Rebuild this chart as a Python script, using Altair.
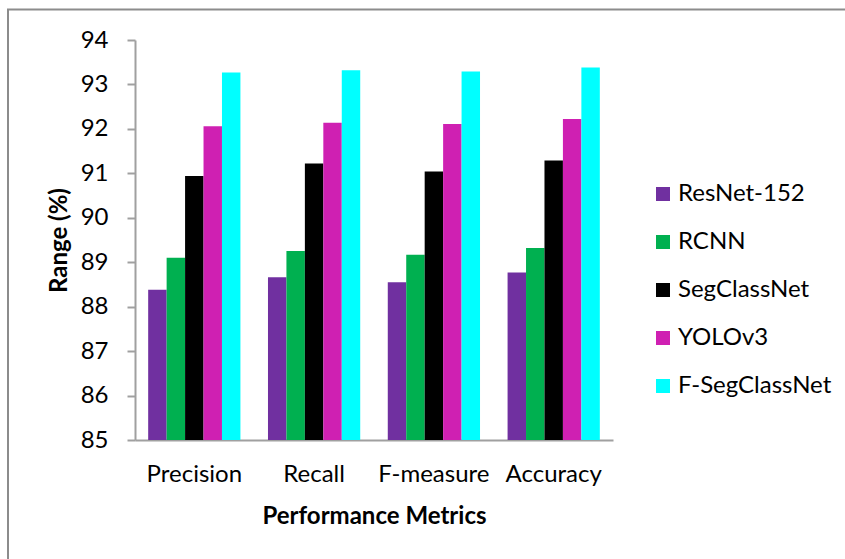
import altair as alt
import pandas as pd

metrics = ["Precision", "Recall", "F-measure", "Accuracy"]
models = ["ResNet-152", "RCNN", "SegClassNet", "YOLOv3", "F-SegClassNet"]
colors = ["#7030A0", "#00B050", "#000000", "#CF20B2", "#00FFFF"]

resnet = [88.38, 88.66, 88.55, 88.77]
rcnn = [89.10, 89.25, 89.17, 89.32]
segclass = [90.94, 91.22, 91.04, 91.29]
yolo = [92.06, 92.14, 92.11, 92.22]
fseg = [93.27, 93.32, 93.29, 93.38]

series = [resnet, rcnn, segclass, yolo, fseg]
rows = []
for m, vals in zip(models, series):
    for met, v in zip(metrics, vals):
        rows.append({"metric": met, "model": m, "value": v})
df = pd.DataFrame(rows)

FONT = "Lato"

bars = alt.Chart(df).mark_bar(clip=True).encode(
    x=alt.X("metric:N", sort=metrics,
            scale=alt.Scale(paddingInner=0.23, paddingOuter=0.11),
            axis=alt.Axis(title="Performance Metrics", labelAngle=0, ticks=False,
                          labelPadding=22, titlePadding=18,
                          domainColor="#A0A0A0", domainWidth=2,
                          labelFont=FONT, labelFontSize=24, labelColor="#000000",
                          titleFont=FONT, titleFontSize=24, titleFontWeight="bold",
                          titleColor="#000000")),
    xOffset=alt.XOffset("model:N", sort=models, scale=alt.Scale(paddingInner=0, paddingOuter=0)),
    y=alt.Y("value:Q",
            scale=alt.Scale(domain=[85, 94], nice=False, zero=False),
            axis=alt.Axis(title="Range (%)", values=list(range(85, 95)), grid=False,
                          tickSize=8, tickColor="#A0A0A0", tickWidth=2,
                          domainColor="#A0A0A0", domainWidth=2,
                          labelPadding=19, titlePadding=9,
                          labelFont=FONT, labelFontSize=24, labelColor="#000000",
                          titleFont=FONT, titleFontSize=24, titleFontWeight="bold",
                          titleColor="#000000")),
    y2=alt.datum(85),
    color=alt.Color("model:N", sort=models,
                    scale=alt.Scale(domain=models, range=colors),
                    legend=alt.Legend(title=None, orient="none", legendX=516, legendY=142,
                                      symbolType="square", symbolSize=196,
                                      symbolStrokeWidth=0, labelOffset=3,
                                      rowPadding=24, padding=0,
                                      labelFont=FONT, labelFontSize=24,
                                      labelColor="#000000")),
)

frame = alt.Chart(pd.DataFrame({"a": [0]})).mark_rect(
    fill=None, stroke="#8C8C8C", strokeWidth=2
).encode(
    x=alt.value(-127), x2=alt.value(800),
    y=alt.value(-30.5), y2=alt.value(600),
)

chart = alt.layer(frame, bars).properties(
    width=478, height=400,
    autosize=alt.AutoSizeParams(type="none"),
    padding={"left": 135, "top": 40, "right": 232, "bottom": 119},
).configure(background="white", view=alt.ViewConfig(stroke=None))

chart.save("out.html", embed_options={"renderer": "svg", "actions": False})
